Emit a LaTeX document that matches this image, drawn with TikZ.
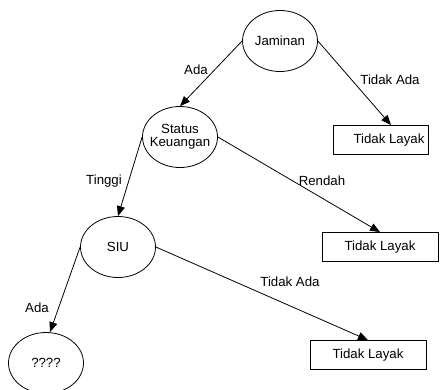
\documentclass[tikz,border=0pt]{standalone}
\usepackage{fontspec}
\setmainfont{Liberation Sans}
\usetikzlibrary{shapes.geometric,arrows.meta}
\begin{document}
\begin{tikzpicture}[x=1bp,y=-1bp,
  every node/.style={font=\fontsize{13.3}{13.5}\selectfont},
  ell/.style={draw,ellipse,minimum width=75bp,minimum height=61bp,inner sep=0pt,line width=0.8pt},
  box/.style={draw,rectangle,minimum height=29bp,inner sep=0pt,line width=0.8pt},
  conn/.style={line width=0.8pt,-{Triangle[length=10bp,width=8bp]}},
  lbl/.style={inner sep=0pt}]
\clip (0,0) rectangle (448,389);
\fill[white] (0,0) rectangle (448,389);
\node[ell] (j) at (280,41) {};
\node at (j) {Jaminan};
\node[ell] (s) at (180,137) {};
\node[align=center] at (s) {Status\\Keuangan};
\node[ell] (u) at (118,247) {};
\node at (u) {SIU};
\node[ell] (q) at (46,363) {};
\node at (q) {????};
\node[box,minimum width=95bp] (b1) at (381,140) {\hspace*{16bp}Tidak Layak};
\node[box,minimum width=116bp] (b2) at (380,247) {Tidak Layak};
\node[box,minimum width=116bp] (b3) at (368,355) {Tidak Layak};
\draw[conn] (j.west) -- (s.north);
\draw[conn] (j.east) -- ([xshift=10bp]b1.north);
\draw[conn] (s.east) -- (b2.north);
\draw[conn] (s.west) -- (u.north);
\draw[conn] (u.east) -- (b3.north);
\draw[conn] (u.west) -- ([xshift=4bp]q.north);
\node[lbl] (l1) at (196,70) {Ada};
\node[lbl] (l2) at (390,80) {Tidak Ada};
\node[lbl] (l3) at (322,181) {Rendah};
\node[lbl] (l4) at (104,181) {Tinggi};
\node[lbl] (l5) at (290,282) {Tidak Ada};
\node[lbl] (l6) at (37,308) {Ada};
\end{tikzpicture}
\end{document}
